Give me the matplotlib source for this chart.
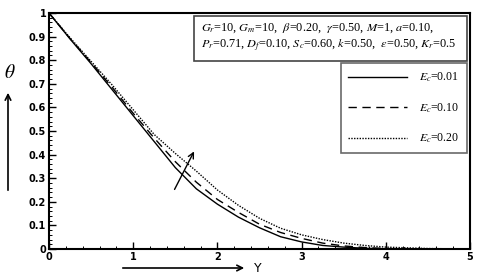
import matplotlib
matplotlib.use("Agg")
import matplotlib.pyplot as plt
from matplotlib.patches import Rectangle, FancyArrowPatch
from matplotlib.ticker import MultipleLocator, FormatStrFormatter

plt.rcParams['mathtext.fontset'] = 'stix'

Y = [0, 0.25, 0.5, 0.75, 1.0, 1.25, 1.5, 1.75, 2.0, 2.25, 2.5, 2.75, 3.0, 3.25, 3.5, 3.75, 4.0, 4.5, 5.0]
theta_001 = [1, 0.89, 0.785, 0.675, 0.565, 0.455, 0.345, 0.255, 0.19, 0.135, 0.09, 0.052, 0.03, 0.015, 0.008, 0.003, 0.001, 0, 0]
theta_010 = [1, 0.892, 0.79, 0.685, 0.575, 0.47, 0.37, 0.283, 0.21, 0.155, 0.105, 0.07, 0.045, 0.025, 0.013, 0.006, 0.002, 0, 0]
theta_020 = [1, 0.895, 0.795, 0.695, 0.59, 0.485, 0.405, 0.33, 0.25, 0.185, 0.13, 0.088, 0.06, 0.04, 0.025, 0.015, 0.008, 0.002, 0]
labels = ['$E_c$=0.01', '$E_c$=0.10', '$E_c$=0.20']
styles = ['-', (0, (6, 4)), (0, (1, 1))]

fig = plt.figure(figsize=(4.8, 2.78), dpi=100)
ax = fig.add_axes([49/480, 1-249/278, 421/480, 236/278])

for yv, lab, ls in zip([theta_001, theta_010, theta_020], labels, styles):
    ax.plot(Y, yv, color='black', linestyle=ls, linewidth=1.0, label=lab)

ax.set_xlim(0, 5)
ax.set_ylim(0, 1)
ax.xaxis.set_major_locator(MultipleLocator(1))
ax.xaxis.set_minor_locator(MultipleLocator(0.2))
ax.yaxis.set_major_locator(MultipleLocator(0.1))
ax.yaxis.set_minor_locator(MultipleLocator(0.02))
ax.xaxis.set_major_formatter(FormatStrFormatter('%g'))
ax.yaxis.set_major_formatter(FormatStrFormatter('%g'))
ax.tick_params(which='both', direction='in', top=False, right=False, labelsize=7, pad=2)
ax.tick_params(which='major', length=5, width=1)
ax.tick_params(which='minor', length=2.5, width=0.7)
for lab in ax.get_xticklabels() + ax.get_yticklabels():
    lab.set_fontweight('bold')
for s in ax.spines.values():
    s.set_linewidth(1.5)

# parameter box
ax.add_patch(Rectangle((0.344, 0.797), 0.649, 0.19, transform=ax.transAxes,
                       fill=False, edgecolor='#444444', linewidth=1.2, zorder=5))
ax.text(0.362, 0.936, r'$G_r$=10, $G_m$=10,  $\beta$=0.20,  $\gamma$=0.50, $M$=1, $a$=0.10,',
        transform=ax.transAxes, fontsize=8.8, family='Liberation Serif', va='center', ha='left')
ax.text(0.362, 0.866, r'$P_r$=0.71, $D_f$=0.10, $S_c$=0.60, $k$=0.50,  $\varepsilon$=0.50, $K_r$=0.5',
        transform=ax.transAxes, fontsize=8.8, family='Liberation Serif', va='center', ha='left')

leg = ax.legend(loc='upper right', bbox_to_anchor=(0.993, 0.788), frameon=True, fancybox=False,
                edgecolor='#444444', handlelength=5, handletextpad=1.0,
                labelspacing=1.45, borderpad=0.65, borderaxespad=0,
                prop={'family': 'Liberation Serif', 'size': 8.5})
leg.get_frame().set_linewidth(1.2)

# arrow inside plot
ax.annotate('', xy=(1.738, 0.424), xytext=(1.476, 0.242),
            arrowprops=dict(arrowstyle='->', color='black', lw=1.0))

# axis labels with arrows
fig.text(10/480, 1-73/278, r'$\theta$', fontsize=14, ha='center', va='center')
fig.add_artist(FancyArrowPatch((8/480, 1-193/278), (8/480, 1-90/278),
               transform=fig.transFigure, arrowstyle='->', mutation_scale=10, lw=1.2, color='black'))
fig.add_artist(FancyArrowPatch((120/480, 1-268/278), (247/480, 1-268/278),
               transform=fig.transFigure, arrowstyle='->', mutation_scale=10, lw=1.2, color='black'))
fig.text(258/480, 1-268/278, 'Y', fontsize=9, ha='center', va='center', family='DejaVu Sans')

fig.savefig('out.png', dpi=100)
